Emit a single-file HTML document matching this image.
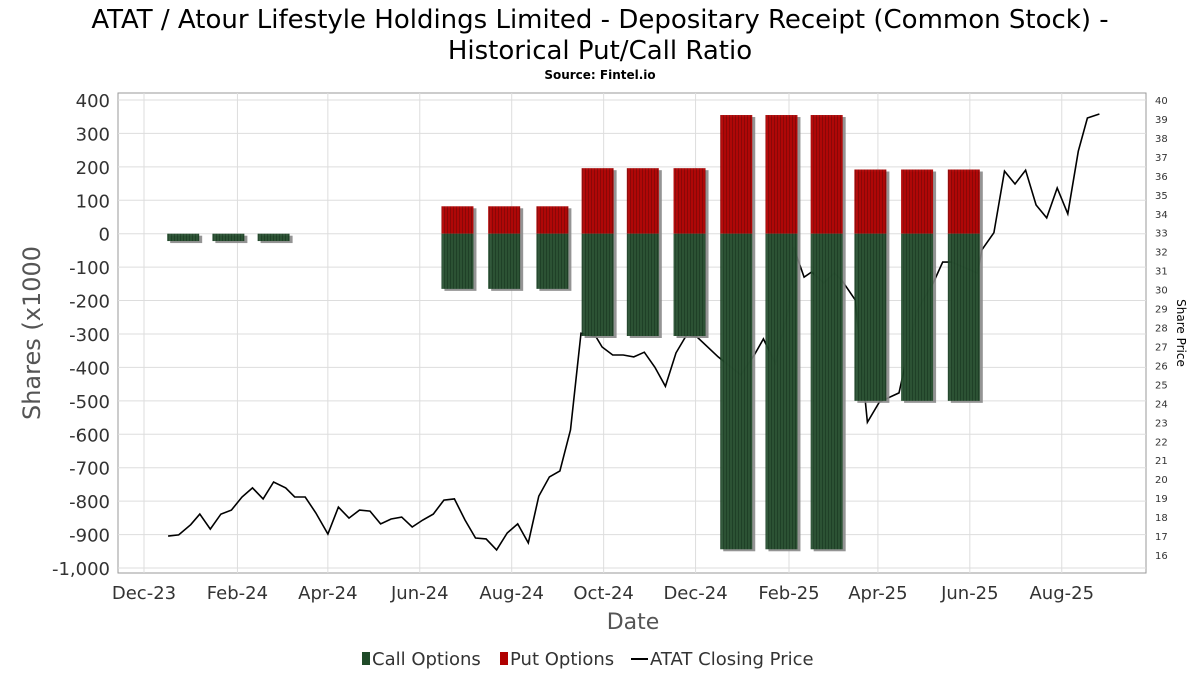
<!DOCTYPE html>
<html><head><meta charset="utf-8"><style>
body{margin:0;background:#fff;}
svg{display:block;font-family:"DejaVu Sans","Liberation Sans",sans-serif;}
</style></head><body>
<svg id="c" width="1200" height="675" viewBox="0 0 1200 675">
<defs>
<pattern id="pr" width="3" height="10" patternUnits="userSpaceOnUse"><rect width="3" height="10" fill="#b00000"/><rect width="1" height="10" fill="#8a0000"/></pattern>
<pattern id="pg" width="3" height="10" patternUnits="userSpaceOnUse"><rect width="3" height="10" fill="#244d2d"/><rect width="1" height="10" fill="#163a1f"/></pattern>
</defs>
<text x="600" y="28" font-size="26" text-anchor="middle">ATAT / Atour Lifestyle Holdings Limited - Depositary Receipt (Common Stock) -</text>
<text x="600" y="59" font-size="26" text-anchor="middle">Historical Put/Call Ratio</text>
<text x="600" y="79" font-size="12" font-weight="bold" text-anchor="middle">Source: Fintel.io</text>
<rect x="118" y="93" width="1028" height="480" fill="#fff" stroke="#999"/>
<g id="grid"></g>
<g id="line"></g>
<g id="bars"></g>
<g id="axes"></g>
<text transform="translate(40,333) rotate(-90)" font-size="24" fill="#555" text-anchor="middle">Shares (x1000</text>
<text transform="translate(1177,333) rotate(90)" font-size="12" text-anchor="middle">Share Price</text>
<text x="633" y="629" font-size="22" fill="#555" text-anchor="middle">Date</text>
<g font-size="18" fill="#333">
<rect x="362" y="652" width="8" height="13" fill="#1f4a28"/>
<text x="372" y="665">Call Options</text>
<rect x="500" y="652" width="8" height="13" fill="#b00000"/>
<text x="510" y="665">Put Options</text>
<line x1="631" y1="659" x2="648" y2="659" stroke="#000" stroke-width="2"/>
<text x="650" y="665">ATAT Closing Price</text>
</g>
</svg>
<script>
const barDates=["2023-12-27","2024-01-26","2024-02-25","2024-06-26","2024-07-27","2024-08-28","2024-09-27","2024-10-27","2024-11-27","2024-12-28","2025-01-27","2025-02-26","2025-03-27","2025-04-27","2025-05-28"];
const putValues=[0,0,0,82,82,82,196,196,196,355,355,355,192,192,192];
const callValues=[-22,-22,-22,-165,-165,-165,-306,-306,-306,-944,-944,-944,-500,-500,-500];
const priceDates=["2023-12-17","2023-12-24","2024-01-01","2024-01-07","2024-01-14","2024-01-21","2024-01-28","2024-02-04","2024-02-11","2024-02-18","2024-02-25","2024-03-04","2024-03-10","2024-03-17","2024-03-24","2024-04-01","2024-04-08","2024-04-15","2024-04-22","2024-04-29","2024-05-06","2024-05-13","2024-05-20","2024-05-27","2024-06-03","2024-06-10","2024-06-17","2024-06-24","2024-07-01","2024-07-08","2024-07-15","2024-07-22","2024-07-29","2024-08-05","2024-08-12","2024-08-19","2024-08-26","2024-09-02","2024-09-09","2024-09-16","2024-09-26","2024-09-30","2024-10-07","2024-10-14","2024-10-21","2024-10-28","2024-11-04","2024-11-11","2024-11-18","2024-11-25","2024-12-02","2024-12-16","2024-12-31","2025-01-09","2025-01-15","2025-01-23","2025-02-01","2025-02-04","2025-02-11","2025-02-16","2025-02-24","2025-03-03","2025-03-08","2025-03-17","2025-03-25","2025-04-02","2025-04-15","2025-04-27","2025-05-08","2025-05-14","2025-05-20","2025-06-06","2025-06-09","2025-06-17","2025-06-24","2025-07-01","2025-07-08","2025-07-15","2025-07-22","2025-07-29","2025-08-05","2025-08-12","2025-08-18","2025-08-26"];
const prices=[17.0,17.06,17.6,18.16,17.37,18.16,18.37,19.06,19.54,18.96,19.85,19.54,19.06,19.06,18.22,17.11,18.53,17.95,18.37,18.32,17.64,17.9,18.0,17.48,17.85,18.16,18.9,18.96,17.85,16.9,16.85,16.27,17.16,17.64,16.64,19.11,20.12,20.43,22.6,27.7,27.5,26.97,26.55,26.55,26.45,26.7,25.9,24.9,26.66,27.6,27.5,26.45,25.5,26.55,27.4,26.1,29.1,32.25,30.66,30.93,30.35,30.87,30.5,29.45,23.0,24.07,24.55,28.9,30.4,31.45,31.45,30.87,32.1,33.0,36.25,35.57,36.3,34.46,33.78,35.36,34.0,37.3,39.05,39.26];
const leftTicks=[400,300,200,100,0,-100,-200,-300,-400,-500,-600,-700,-800,-900,-1000];
const leftTickLabels=["400","300","200","100","0","-100","-200","-300","-400","-500","-600","-700","-800","-900","-1,000"];
const rightTicks=[40,39,38,37,36,35,34,33,32,31,30,29,28,27,26,25,24,23,22,21,20,19,18,17,16];
const xTickDates=["2023-12-01","2024-02-01","2024-04-01","2024-06-01","2024-08-01","2024-10-01","2024-12-01","2025-02-01","2025-04-01","2025-06-01","2025-08-01"];
const xTickLabels=["Dec-23","Feb-24","Apr-24","Jun-24","Aug-24","Oct-24","Dec-24","Feb-25","Apr-25","Jun-25","Aug-25"];

const NS="http://www.w3.org/2000/svg";
const t0=Date.UTC(2023,11,1);
function xs(d){const p=d.split("-");return 144+(Date.UTC(+p[0],+p[1]-1,+p[2])-t0)/864e5*1.507;}
function yl(v){return 233.7-v*0.3343;}
function yr(p){return 100+(40-p)*18.96;}
function mk(tag,attrs,parent){const e=document.createElementNS(NS,tag);for(const k in attrs)e.setAttribute(k,attrs[k]);parent.appendChild(e);return e;}
const grid=document.getElementById("grid"),axes=document.getElementById("axes"),lineG=document.getElementById("line"),barsG=document.getElementById("bars");
leftTicks.forEach((v,i)=>{
  const y=yl(v);
  const g=mk("line",{x1:118,x2:1146,y1:y,y2:y,stroke:"#ddd"},grid);
  
  
  const t=mk("text",{x:110,y:y+7,"font-size":18,"text-anchor":"end",fill:"#333"},axes);
  t.textContent=leftTickLabels[i];
  
  
});
rightTicks.forEach(p=>{
  const y=yr(p);
  const t=mk("text",{x:1155,y:y+4,"font-size":10,fill:"#333"},axes);
  t.textContent=p;
  
  
});
xTickDates.forEach((d,i)=>{
  const x=xs(d);
  const g=mk("line",{x1:x,x2:x,y1:93,y2:573,stroke:"#ddd"},grid);
  
  
  const t=mk("text",{x:x,y:599,"font-size":18,"text-anchor":"middle",fill:"#333"},axes);
  t.textContent=xTickLabels[i];
  
  
});
const pts=priceDates.map((d,i)=>xs(d).toFixed(1)+","+yr(prices[i]).toFixed(1)).join(" ");
const pl=mk("polyline",{points:pts,fill:"none",stroke:"#000","stroke-width":1.6},lineG);


barDates.forEach((d,i)=>{
  const cx=xs(d),w=32,x=cx-w/2;
  const y0=yl(0),yp=yl(putValues[i]),yc=yl(callValues[i]);
  const sh=mk("rect",{x:x+3,y:yp+2,width:w,height:yc-yp,fill:"#888",opacity:0.9},barsG);
  
  
  if(putValues[i]>0){
    const r=mk("rect",{x:x,y:yp,width:w,height:y0-yp,fill:"url(#pr)",opacity:0.95},barsG);
    
    
  }
  const c=mk("rect",{x:x,y:y0,width:w,height:yc-y0,fill:"url(#pg)",opacity:0.93},barsG);
  
  
});
</script>
</body></html>
